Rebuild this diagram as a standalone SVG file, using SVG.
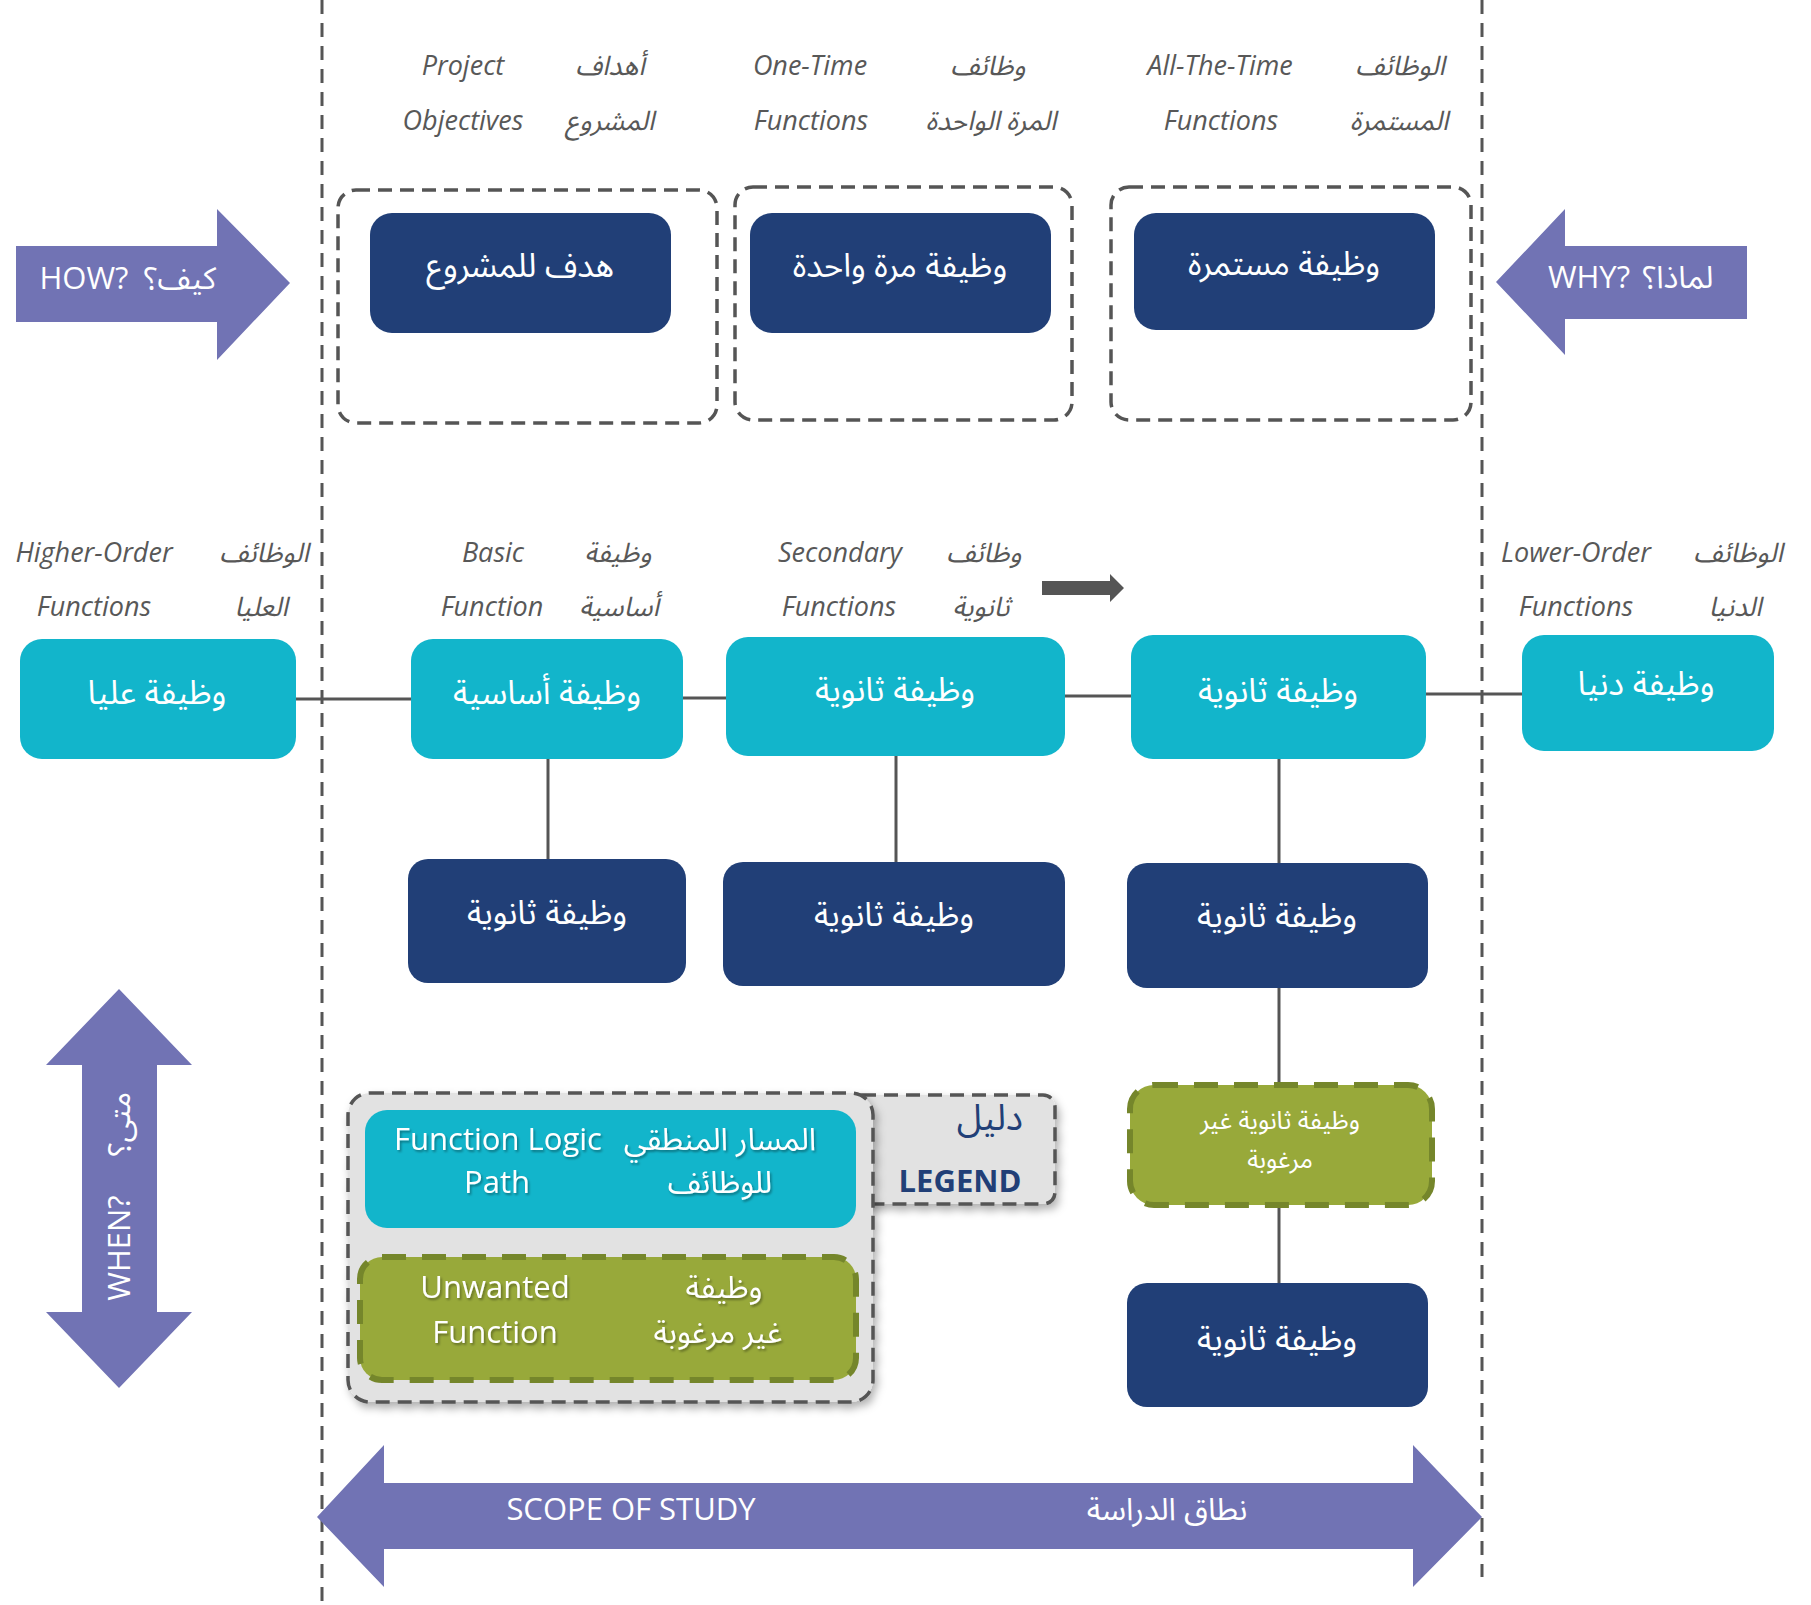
<svg xmlns="http://www.w3.org/2000/svg" width="1811" height="1605" viewBox="0 0 1811 1605">
<style>
text{font-family:"Open Sans","Noto Sans Arabic","DejaVu Sans",sans-serif;text-anchor:middle}
.bt{fill:#fff;font-size:33px}
.lbl{fill:#585858;font-size:27px;font-style:italic}
.arw{fill:#fff;font-size:31px}
.navy{fill:#213f77}
.cyan{fill:#12b5cb}
.green{fill:#98a93a;stroke:#75862b;stroke-width:6;stroke-dasharray:24 16}
.purple{fill:#7173b4}
.dbox{fill:none;stroke:#555;stroke-width:3.5;stroke-dasharray:14 8}
.vline{stroke:#555;stroke-width:3;stroke-dasharray:14 9;fill:none}
.conn{stroke:#555;stroke-width:3;fill:none}
.leg{fill:#e2e2e2;stroke:#555;stroke-width:3.5;stroke-dasharray:14 8}
.lt{fill:#fff;font-size:31px}
</style>
<defs>
<filter id="sh" x="-10%" y="-10%" width="130%" height="130%">
<feDropShadow dx="3" dy="5" stdDeviation="4" flood-color="#000" flood-opacity="0.3"/>
</filter>
<filter id="tsh" x="-10%" y="-20%" width="120%" height="150%">
<feDropShadow dx="1.5" dy="2" stdDeviation="1" flood-color="#000" flood-opacity="0.35"/>
</filter>
</defs>

<!-- scope boundaries -->
<line class="vline" x1="322" y1="0" x2="322" y2="1605"/>
<line class="vline" x1="1482" y1="0" x2="1482" y2="1577"/>

<!-- group frames -->
<g id="frame-objectives"><rect class="dbox" x="338" y="190" width="379" height="233" rx="18"/></g>
<g id="frame-onetime"><rect class="dbox" x="735" y="187" width="337" height="233" rx="18"/></g>
<g id="frame-alltime"><rect class="dbox" x="1111" y="187" width="360" height="233" rx="18"/></g>

<!-- column labels -->
<g id="labels-top">
<text class="lbl" x="463" y="75">Project</text>
<text class="lbl" x="610" y="75">أهداف</text>
<text class="lbl" x="463" y="130">Objectives</text>
<text class="lbl" x="610" y="130">المشروع</text>
<text class="lbl" x="810" y="75">One-Time</text>
<text class="lbl" x="988" y="75">وظائف</text>
<text class="lbl" x="811" y="130">Functions</text>
<text class="lbl" x="991" y="130">المرة الواحدة</text>
<text class="lbl" x="1220" y="75">All-The-Time</text>
<text class="lbl" x="1400" y="75">الوظائف</text>
<text class="lbl" x="1221" y="130">Functions</text>
<text class="lbl" x="1399" y="130">المستمرة</text>
</g>
<g id="labels-mid">
<text class="lbl" x="94" y="562">Higher-Order</text>
<text class="lbl" x="264" y="562">الوظائف</text>
<text class="lbl" x="94" y="616">Functions</text>
<text class="lbl" x="261" y="616">العليا</text>
<text class="lbl" x="493" y="562">Basic</text>
<text class="lbl" x="618" y="562">وظيفة</text>
<text class="lbl" x="492" y="616">Function</text>
<text class="lbl" x="619" y="616">أساسية</text>
<text class="lbl" x="840" y="562">Secondary</text>
<text class="lbl" x="984" y="562">وظائف</text>
<text class="lbl" x="839" y="616">Functions</text>
<text class="lbl" x="981" y="616">ثانوية</text>
<text class="lbl" x="1576" y="562">Lower-Order</text>
<text class="lbl" x="1738" y="562">الوظائف</text>
<text class="lbl" x="1576" y="616">Functions</text>
<text class="lbl" x="1735" y="616">الدنيا</text>
</g>

<!-- big arrows -->
<g id="arrow-how"><polygon class="purple" points="16,246 217,246 217,209 290,283 217,360 217,322 16,322"/>
<text class="arw" x="84" y="289">HOW?</text><text class="arw" x="180" y="289">كيف؟</text></g>
<g id="arrow-why"><polygon class="purple" points="1747,246 1565,246 1565,209 1496,282 1565,355 1565,319 1747,319"/>
<text class="arw" x="1589" y="288">WHY?</text><text class="arw" x="1678" y="288">لماذا؟</text></g>
<g id="arrow-when"><polygon class="purple" points="119,989 192,1065 157,1065 157,1312 192,1312 119,1388 46,1312 82,1312 82,1065 46,1065"/>
<g transform="translate(119,1195) rotate(-90)"><text class="arw" x="-53" y="11">WHEN?</text><text class="arw" x="71" y="11">متى؟</text></g></g>
<g id="arrow-scope"><polygon class="purple" points="317,1517 384,1445 384,1483 1413,1483 1413,1445 1482,1517 1413,1587 1413,1549 384,1549 384,1587"/>
<text class="arw" x="631" y="1520">SCOPE OF STUDY</text><text class="arw" x="1167" y="1520">نطاق الدراسة</text></g>

<!-- connectors -->
<g id="connectors">
<line class="conn" x1="296" y1="699" x2="411" y2="699"/>
<line class="conn" x1="683" y1="698" x2="726" y2="698"/>
<line class="conn" x1="1065" y1="696" x2="1131" y2="696"/>
<line class="conn" x1="1426" y1="694" x2="1522" y2="694"/>
<line class="conn" x1="548" y1="759" x2="548" y2="859"/>
<line class="conn" x1="896" y1="756" x2="896" y2="862"/>
<line class="conn" x1="1279" y1="759" x2="1279" y2="863"/>
<line class="conn" x1="1279" y1="988" x2="1279" y2="1085"/>
<line class="conn" x1="1279" y1="1205" x2="1279" y2="1283"/>
<polygon fill="#555" points="1042,581 1110,581 1110,574 1124,588 1110,602 1110,595 1042,595"/>
</g>

<!-- top nodes -->
<g id="node-objective"><rect class="navy" x="370" y="213" width="301" height="120" rx="22"/><text class="bt" x="520" y="277">هدف للمشروع</text></g>
<g id="node-onetime"><rect class="navy" x="750" y="213" width="301" height="120" rx="22"/><text class="bt" x="900" y="277">وظيفة مرة واحدة</text></g>
<g id="node-alltime"><rect class="navy" x="1134" y="213" width="301" height="117" rx="22"/><text class="bt" x="1284" y="275">وظيفة مستمرة</text></g>

<!-- main path -->
<g id="node-higher"><rect class="cyan" x="20" y="639" width="276" height="120" rx="22"/><text class="bt" x="157" y="704">وظيفة عليا</text></g>
<g id="node-basic"><rect class="cyan" x="411" y="639" width="272" height="120" rx="22"/><text class="bt" x="547" y="704">وظيفة أساسية</text></g>
<g id="node-sec1"><rect class="cyan" x="726" y="637" width="339" height="119" rx="22"/><text class="bt" x="895" y="701">وظيفة ثانوية</text></g>
<g id="node-sec2"><rect class="cyan" x="1131" y="635" width="295" height="124" rx="22"/><text class="bt" x="1278" y="702">وظيفة ثانوية</text></g>
<g id="node-lower"><rect class="cyan" x="1522" y="635" width="252" height="116" rx="22"/><text class="bt" x="1646" y="695">وظيفة دنيا</text></g>

<!-- secondary row -->
<g id="node-sec3"><rect class="navy" x="408" y="859" width="278" height="124" rx="20"/><text class="bt" x="547" y="924">وظيفة ثانوية</text></g>
<g id="node-sec4"><rect class="navy" x="723" y="862" width="342" height="124" rx="20"/><text class="bt" x="894" y="926">وظيفة ثانوية</text></g>
<g id="node-sec5"><rect class="navy" x="1127" y="863" width="301" height="125" rx="20"/><text class="bt" x="1277" y="927">وظيفة ثانوية</text></g>
<g id="node-unwanted"><rect class="green" x="1130" y="1085" width="302" height="120" rx="24"/>
<text class="bt" style="font-size:25px" x="1280" y="1129">وظيفة ثانوية غير</text><text class="bt" style="font-size:25px" x="1280" y="1168">مرغوبة</text></g>
<g id="node-sec6"><rect class="navy" x="1127" y="1283" width="301" height="124" rx="20"/><text class="bt" x="1277" y="1350">وظيفة ثانوية</text></g>

<!-- legend -->
<g id="legend">
<rect class="leg" x="850" y="1095" width="205" height="109" rx="12" filter="url(#sh)"/>
<rect class="leg" x="348" y="1093" width="525" height="309" rx="22" filter="url(#sh)"/>
<text class="navy" style="font-size:36px;text-anchor:end" x="1023" y="1130">دليل</text>
<text class="navy" style="font-size:31px;font-weight:bold" x="960" y="1192">LEGEND</text>
<rect class="cyan" x="365" y="1110" width="491" height="118" rx="22"/>
<g filter="url(#tsh)">
<text class="lt" x="498" y="1150">Function Logic</text>
<text class="lt" x="720" y="1150">المسار المنطقي</text>
<text class="lt" x="497" y="1193">Path</text>
<text class="lt" x="720" y="1193">للوظائف</text>
</g>
<rect class="green" x="360" y="1257" width="496" height="123" rx="22"/>
<g filter="url(#tsh)">
<text class="lt" x="495" y="1298">Unwanted</text>
<text class="lt" x="724" y="1298">وظيفة</text>
<text class="lt" x="495" y="1343">Function</text>
<text class="lt" x="718" y="1343">غير مرغوبة</text>
</g>
</g>
</svg>
